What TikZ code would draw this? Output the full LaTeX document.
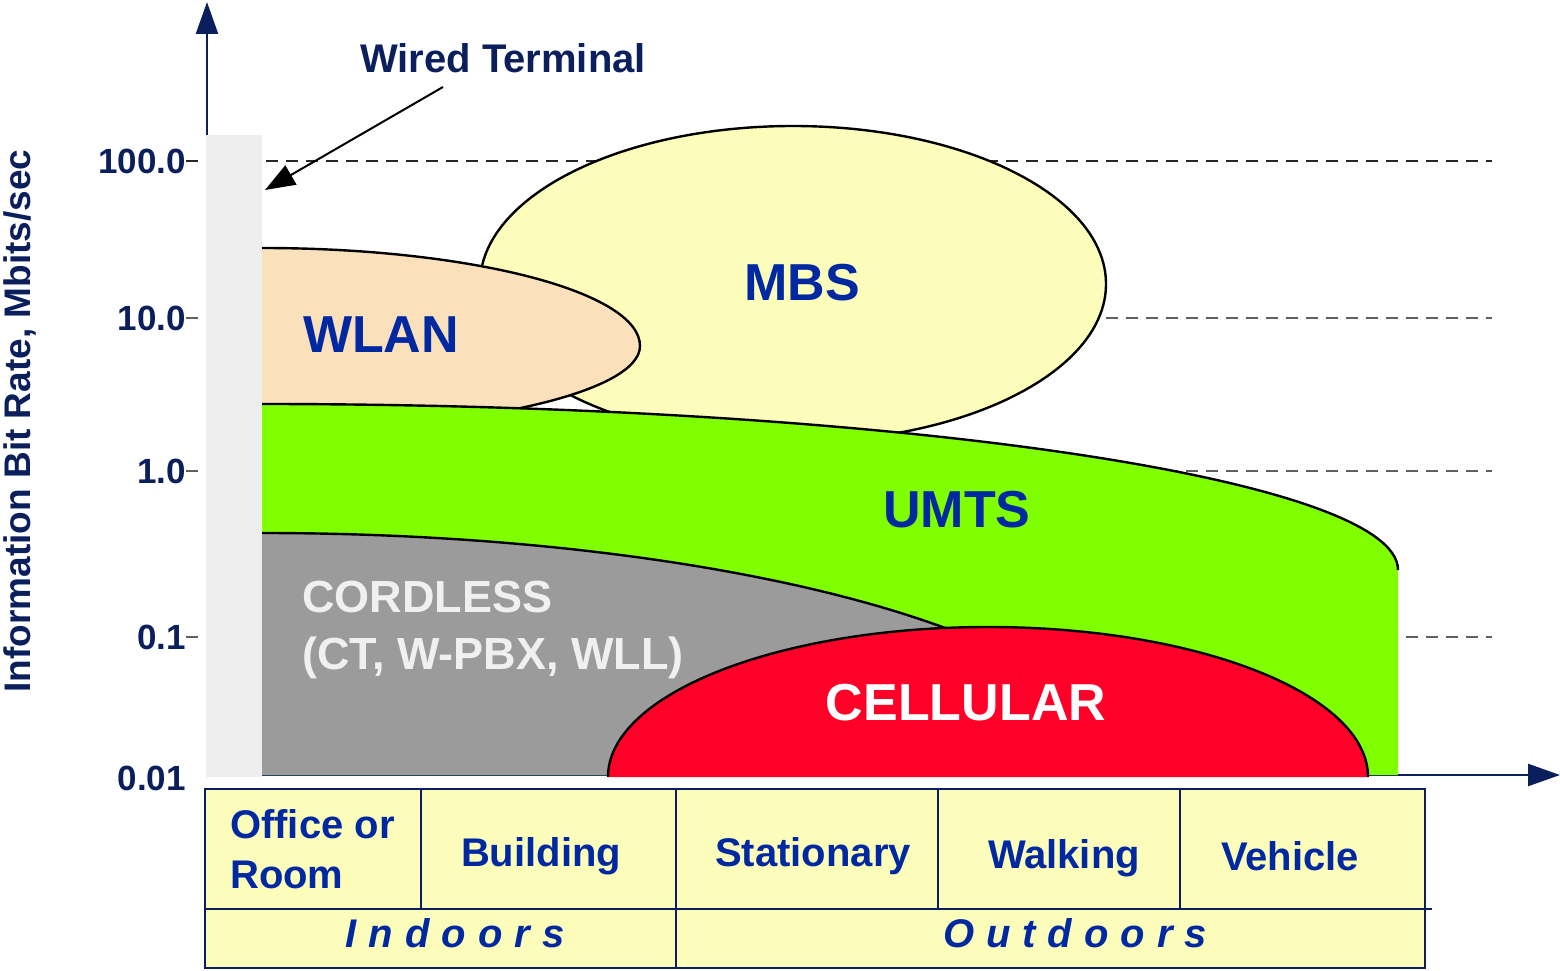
\documentclass[tikz,border=0pt]{standalone}
\usepackage{fontspec}
\setmainfont{Liberation Sans}
\usetikzlibrary{arrows.meta}
\definecolor{navy}{HTML}{0A1F5C}
\definecolor{txtblue}{HTML}{0028A0}
\definecolor{mbsfill}{HTML}{FDFDBB}
\definecolor{wlanfill}{HTML}{FAE0BB}
\definecolor{umtsfill}{HTML}{80FF00}
\definecolor{cordfill}{HTML}{9B9B9B}
\definecolor{cellfill}{HTML}{FF0028}
\definecolor{tabfill}{HTML}{FCFCBB}
\definecolor{barfill}{HTML}{EEEEEE}
\definecolor{gridgray}{HTML}{606060}
\tikzset{
  axis/.style={draw=navy, line width=2.5pt, -{Triangle[length=32pt,width=22pt]}},
  grid line/.style={draw=gridgray, line width=1.3pt, dash pattern=on 12pt off 8pt},
  edge/.style={draw=black, line width=2.4pt},
  ticklabel/.style={anchor=east, text=navy, font=\fontsize{35}{40}\selectfont\bfseries, inner sep=0pt},
  region/.style={text=txtblue, font=\fontsize{52}{60}\selectfont\bfseries, inner sep=0pt},
  cell/.style={text=txtblue, font=\fontsize{40}{50}\selectfont\bfseries, inner sep=0pt},
  group/.style={text=txtblue, font=\fontsize{40}{50}\selectfont\bfseries\itshape, inner sep=0pt},
  table line/.style={draw=navy, line width=2.5pt},
}
\begin{document}
\begin{tikzpicture}[x=1pt, y=-1pt]
\useasboundingbox (0,0) rectangle (1560,971);

% axes
\draw[axis] (207,777) -- (207,2);
\draw[axis] (207,775) -- (1560,775);

% horizontal rate levels with ticks
\draw[grid line, draw=black!85] (186,161) -- (1492,161);
\foreach \yy in {318,471,637}
  \draw[grid line] (186,\yy) -- (1492,\yy);

% wired terminal column
\fill[barfill] (206,135) rectangle (262,777);

% MBS
\draw[edge, fill=mbsfill] (793,284) ellipse [x radius=313, y radius=158];

% WLAN
\fill[wlanfill] (262,248) arc[start angle=-90, end angle=0, x radius=378, y radius=98]
  arc[start angle=0, end angle=90, x radius=378, y radius=85] -- cycle;
\draw[edge] (262,248) arc[start angle=-90, end angle=0, x radius=378, y radius=98]
  arc[start angle=0, end angle=90, x radius=378, y radius=85];

% UMTS
\fill[umtsfill] (262,404) arc[start angle=-90, end angle=0, x radius=1136, y radius=166] -- (1398,775) -- (262,775) -- cycle;
\draw[edge] (262,404) arc[start angle=-90, end angle=0, x radius=1136, y radius=166];

% cordless
\fill[cordfill] (262,533) arc[start angle=-90, end angle=0, x radius=860, y radius=242] -- (262,775) -- cycle;
\draw[edge] (262,533) arc[start angle=-90, end angle=0, x radius=860, y radius=242];

% cellular
\fill[cellfill] (608,777) arc[start angle=180, end angle=360, x radius=380, y radius=150] -- cycle;
\draw[edge] (608,777) arc[start angle=180, end angle=360, x radius=380, y radius=150];

% region labels
\node[region] (mbs) at (802,283) {MBS};
\node[region] (wlan) at (381,335) {WLAN};
\node[region] (umts) at (957,510) {UMTS};
\node[region, text=white] (cell) at (966,703) {CELLULAR};
\node[anchor=west, text=white!94!black, font=\fontsize{45}{57}\selectfont\bfseries, inner sep=0pt, align=left] (cord) at (302,630) {CORDLESS\\(CT, W-PBX, WLL)};

% wired terminal callout
\node[text=navy, font=\fontsize{40}{48}\selectfont\bfseries, inner sep=0pt] (wired) at (503,58) {Wired Terminal};
\coordinate (wiredfrom) at (443,87);
\coordinate (wiredto) at (265,190);
\draw[black, line width=2pt, -{Triangle[length=30pt,width=22pt]}] (wiredfrom) -- (wiredto);

% tick labels
\node[ticklabel] (t100) at (186,161) {100.0};
\node[ticklabel] (t10) at (186,318) {10.0};
\node[ticklabel] (t1) at (186,471) {1.0};
\node[ticklabel] (t01) at (186,637) {0.1};
\node[ticklabel] (t001) at (186,778) {0.01};

% axis title
\node[rotate=90, text=navy, font=\fontsize{37}{44}\selectfont\bfseries, inner sep=0pt] (ytitle) at (20,421) {Information Bit Rate, Mbits/sec};

% environment table
\draw[table line, fill=tabfill] (205,789) rectangle (1425,968);
\draw[table line] (205,909) -- (1432,909);
\draw[table line] (421,789) -- (421,909);
\draw[table line] (676,789) -- (676,968);
\draw[table line] (938,789) -- (938,909);
\draw[table line] (1180,789) -- (1180,909);

\node[cell, anchor=west, align=left] (office) at (230,849) {Office or\\Room};
\node[cell] (building) at (541,856) {Building};
\node[cell] (stationary) at (813,856) {Stationary};
\node[cell] (walking) at (1064,858) {Walking};
\node[cell] (vehicle) at (1290,856) {Vehicle};
\node[group] (indoors) at (455,933) {I\hspace{12pt}n\hspace{12pt}d\hspace{12pt}o\hspace{12pt}o\hspace{12pt}r\hspace{12pt}s};
\node[group] (outdoors) at (1075,933) {O\hspace{12pt}u\hspace{12pt}t\hspace{12pt}d\hspace{12pt}o\hspace{12pt}o\hspace{12pt}r\hspace{12pt}s};
\end{tikzpicture}
\end{document}
